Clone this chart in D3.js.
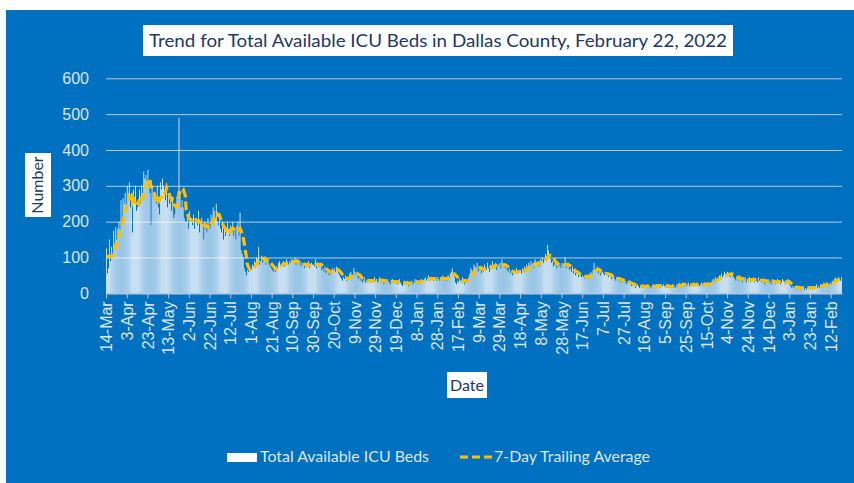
<!DOCTYPE html>
<html>
<head>
<meta charset="utf-8">
<script src="https://cdn.jsdelivr.net/npm/d3@7"></script>
<style>
  body { margin: 0; background: #ffffff; }
  svg { display: block; font-family: Lato, "Open Sans", sans-serif; }
</style>
</head>
<body>
<div id="chart"></div>
<script>
const titleText = "Trend for Total Available ICU Beds in Dallas County, February 22, 2022";
const seriesNames = ["Total Available ICU Beds", "7-Day Trailing Average"];
const yTicks = [0, 100, 200, 300, 400, 500, 600];

// one label every 20 days, starting 14-Mar-2020
const tickLabels = [
  "14-Mar", "3-Apr", "23-Apr", "13-May", "2-Jun", "22-Jun", "12-Jul", "1-Aug",
  "21-Aug", "10-Sep", "30-Sep", "20-Oct", "9-Nov", "29-Nov", "19-Dec", "8-Jan",
  "28-Jan", "17-Feb", "9-Mar", "29-Mar", "18-Apr", "8-May", "28-May", "17-Jun",
  "7-Jul", "27-Jul", "16-Aug", "5-Sep", "25-Sep", "15-Oct", "4-Nov", "24-Nov",
  "14-Dec", "3-Jan", "23-Jan", "12-Feb",
];

// daily available ICU beds, 14-Mar-2020 .. 22-Feb-2022 (one row per 20 days)
const dailyBeds = [
  125, 55, 70, 150, 90, 130, 100, 175, 120, 185, 150, 180, 200, 170, 260, 190, 265, 250, 280, 230,
  300, 260, 310, 240, 280, 170, 290, 250, 300, 230, 240, 260, 290, 250, 300, 280, 340, 320, 330, 310,
  345, 300, 280, 190, 300, 270, 280, 260, 250, 300, 240, 220, 310, 290, 320, 300, 280, 260, 300, 240,
  280, 250, 260, 230, 270, 210, 220, 250, 270, 260, 490, 280, 240, 260, 240, 210, 200, 200, 210, 180,
  230, 200, 210, 190, 220, 180, 200, 210, 190, 230, 170, 200, 210, 190, 150, 200, 180, 170, 210, 190,
  180, 220, 200, 240, 230, 210, 250, 200, 190, 210, 180, 170, 200, 150, 190, 160, 170, 200, 180, 160,
  190, 170, 200, 160, 180, 150, 190, 200, 160, 225, 120, 110, 100, 70, 60, 50, 65, 60, 75, 70,
  65, 80, 75, 90, 85, 100, 95, 130, 80, 90, 105, 85, 95, 100, 80, 95, 90, 80, 75, 70,
  65, 60, 70, 60, 75, 70, 85, 90, 75, 80, 85, 90, 75, 80, 95, 85, 80, 90, 85, 95,
  90, 85, 100, 80, 95, 85, 80, 90, 75, 85, 80, 70, 85, 75, 80, 90, 70, 75, 85, 80,
  80, 75, 95, 70, 85, 80, 75, 85, 65, 70, 60, 75, 55, 60, 65, 50, 55, 60, 70, 65,
  70, 60, 75, 65, 55, 50, 45, 40, 35, 45, 40, 50, 35, 45, 40, 55, 60, 50, 45, 70,
  60, 50, 55, 40, 45, 35, 40, 30, 35, 45, 30, 35, 30, 40, 35, 30, 40, 35, 30, 45,
  35, 40, 30, 35, 45, 30, 35, 40, 25, 35, 30, 40, 35, 30, 25, 35, 40, 30, 35, 30,
  35, 25, 30, 40, 30, 25, 20, 30, 35, 25, 30, 35, 20, 25, 30, 35, 25, 30, 40, 30,
  35, 25, 30, 35, 40, 30, 35, 40, 45, 35, 40, 50, 35, 40, 45, 40, 35, 45, 40, 35,
  45, 40, 35, 45, 40, 50, 35, 40, 45, 35, 50, 45, 55, 60, 70, 55, 45, 30, 25, 35,
  30, 40, 35, 30, 45, 35, 25, 40, 30, 35, 45, 55, 70, 65, 60, 80, 75, 70, 85, 60,
  65, 70, 55, 75, 60, 80, 70, 65, 85, 70, 60, 80, 75, 90, 70, 80, 85, 65, 75, 80,
  85, 70, 95, 75, 80, 70, 75, 65, 60, 70, 55, 60, 50, 65, 55, 60, 70, 55, 65, 60,
  65, 55, 70, 60, 75, 65, 80, 70, 85, 75, 90, 80, 85, 70, 95, 80, 85, 90, 75, 95,
  90, 100, 85, 95, 110, 90, 135, 120, 100, 95, 85, 90, 75, 80, 85, 70, 90, 75, 80, 70,
  85, 75, 80, 100, 70, 80, 75, 65, 70, 60, 75, 55, 60, 50, 55, 60, 45, 55, 50, 45,
  50, 45, 40, 50, 45, 40, 55, 50, 60, 55, 65, 85, 60, 65, 75, 55, 60, 50, 55, 60,
  55, 50, 60, 55, 50, 45, 55, 50, 40, 45, 50, 40, 35, 45, 40, 35, 40, 30, 35, 40,
  30, 35, 25, 30, 35, 25, 30, 20, 25, 20, 25, 15, 20, 25, 20, 15, 20, 25, 15, 20,
  20, 15, 20, 25, 15, 20, 15, 20, 25, 20, 15, 25, 20, 25, 20, 15, 25, 20, 25, 20,
  15, 20, 25, 15, 20, 15, 20, 25, 15, 20, 15, 25, 20, 30, 25, 20, 25, 30, 20, 25,
  20, 25, 30, 20, 25, 20, 25, 30, 20, 25, 30, 20, 25, 20, 25, 30, 20, 25, 30, 25,
  25, 30, 20, 25, 30, 35, 40, 30, 45, 40, 35, 45, 50, 40, 55, 45, 50, 60, 45, 55,
  60, 50, 55, 45, 60, 50, 45, 40, 35, 45, 40, 35, 50, 45, 30, 40, 35, 45, 30, 40,
  35, 45, 30, 40, 35, 45, 30, 40, 35, 30, 45, 35, 40, 30, 35, 40, 25, 35, 30, 40,
  30, 35, 25, 40, 30, 35, 25, 30, 40, 30, 35, 25, 30, 40, 35, 30, 25, 35, 40, 30,
  25, 20, 15, 20, 15, 20, 15, 10, 15, 20, 15, 10, 15, 20, 10, 15, 10, 15, 20, 15,
  15, 20, 10, 15, 20, 15, 25, 15, 20, 15, 25, 20, 25, 30, 20, 25, 30, 20, 25, 30,
  25, 35, 30, 40, 45, 35, 40, 45, 40, 35, 45,
];

const width = 854;
const height = 483;
const margin = { top: 78.3, right: 12, bottom: 189.7, left: 106 };
const plotRight = width - margin.right;
const plotBottom = height - margin.bottom;

const blue = "#0070c0";
const navy = "#203864";
const pale = "#dde6f3";
const gridColor = "#b9c9e0";
const gold = "#ffc000";

// trailing 7-day mean (first days use the first full week)
const trailingAvg = dailyBeds.map((v, i) => {
  const win = dailyBeds.slice(Math.max(0, i - 6), Math.max(7, i + 1));
  return d3.mean(win);
});

const days = d3.range(dailyBeds.length);

const x = d3
  .scaleBand()
  .domain(days)
  .range([margin.left, plotRight])
  .paddingInner(0.25)
  .paddingOuter(0.125);

const xAxisScale = d3
  .scaleLinear()
  .domain([0, dailyBeds.length])
  .range([margin.left, plotRight]);

const y = d3.scaleLinear().domain([0, 600]).range([plotBottom, margin.top]);

const svg = d3
  .select("#chart")
  .append("svg")
  .attr("width", width)
  .attr("height", height);

// blue chart area
svg
  .append("rect")
  .attr("x", 6)
  .attr("y", 10)
  .attr("width", width - 6)
  .attr("height", height - 10)
  .attr("fill", blue);

// title
svg
  .append("rect")
  .attr("x", 143)
  .attr("y", 25)
  .attr("width", 590)
  .attr("height", 31)
  .attr("fill", "#ffffff");
svg
  .append("text")
  .attr("x", 438)
  .attr("y", 47)
  .attr("text-anchor", "middle")
  .attr("textLength", 578)
  .attr("lengthAdjust", "spacingAndGlyphs")
  .style("font-size", "18px")
  .style("fill", navy)
  .text(titleText);

// y gridlines + labels
const yAxis = svg
  .append("g")
  .attr("transform", `translate(${margin.left},0)`)
  .call(
    d3
      .axisLeft(y)
      .tickValues(yTicks)
      .tickSize(-(plotRight - margin.left))
      .tickPadding(17)
  );
yAxis.select(".domain").remove();
yAxis.selectAll("line").attr("stroke", gridColor).attr("stroke-width", 1);
yAxis
  .selectAll("text")
  .style("font-size", "16px")
  .style("fill", pale);

// bars
svg
  .append("g")
  .selectAll("rect")
  .data(dailyBeds)
  .enter()
  .append("rect")
  .attr("x", (d, i) => x(i))
  .attr("y", (d) => y(d))
  .attr("width", x.bandwidth())
  .attr("height", (d) => plotBottom - y(d))
  .attr("fill", "#ffffff");

// x axis
const xAxis = svg
  .append("g")
  .attr("transform", `translate(0,${plotBottom})`)
  .call(
    d3
      .axisBottom(xAxisScale)
      .tickValues(tickLabels.map((_, i) => i * 20))
      .tickFormat((d, i) => tickLabels[i])
      .tickSize(5)
      .tickSizeOuter(0)
  );
xAxis.select(".domain").attr("stroke", gridColor);
xAxis.selectAll("line").attr("stroke", gridColor);
xAxis
  .selectAll("text")
  .attr("transform", "rotate(-90)")
  .attr("x", -8)
  .attr("y", 0)
  .attr("dy", "0.35em")
  .attr("text-anchor", "end")
  .style("font-size", "16px")
  .style("fill", pale);

// 7-day trailing average
const line = d3
  .line()
  .x((d, i) => x(i) + x.bandwidth() / 2)
  .y((d) => y(d));

svg
  .append("path")
  .datum(trailingAvg)
  .attr("d", line)
  .attr("fill", "none")
  .attr("stroke", gold)
  .attr("stroke-width", 3.2)
  .attr("stroke-dasharray", "9,4");

// axis titles
svg
  .append("rect")
  .attr("x", 25)
  .attr("y", 153)
  .attr("width", 26)
  .attr("height", 64)
  .attr("fill", "#ffffff");
svg
  .append("text")
  .attr("transform", "translate(43,185) rotate(-90)")
  .attr("text-anchor", "middle")
  .style("font-size", "16px")
  .style("fill", navy)
  .text("Number");

svg
  .append("rect")
  .attr("x", 447)
  .attr("y", 372)
  .attr("width", 40)
  .attr("height", 26)
  .attr("fill", "#ffffff");
svg
  .append("text")
  .attr("x", 467)
  .attr("y", 391)
  .attr("text-anchor", "middle")
  .style("font-size", "16px")
  .style("fill", navy)
  .text("Date");

// legend
const legend = svg.append("g");
legend
  .append("rect")
  .attr("x", 227)
  .attr("y", 453)
  .attr("width", 30)
  .attr("height", 9)
  .attr("fill", "#ffffff");
legend
  .append("text")
  .attr("x", 260)
  .attr("y", 462)
  .attr("textLength", 169)
  .attr("lengthAdjust", "spacingAndGlyphs")
  .style("font-size", "16px")
  .style("fill", pale)
  .text(seriesNames[0]);
legend
  .append("line")
  .attr("x1", 460)
  .attr("x2", 492)
  .attr("y1", 457)
  .attr("y2", 457)
  .attr("stroke", gold)
  .attr("stroke-width", 3)
  .attr("stroke-dasharray", "8,4");
legend
  .append("text")
  .attr("x", 494)
  .attr("y", 462)
  .attr("textLength", 156)
  .attr("lengthAdjust", "spacingAndGlyphs")
  .style("font-size", "16px")
  .style("fill", pale)
  .text(seriesNames[1]);
</script>
</body>
</html>
